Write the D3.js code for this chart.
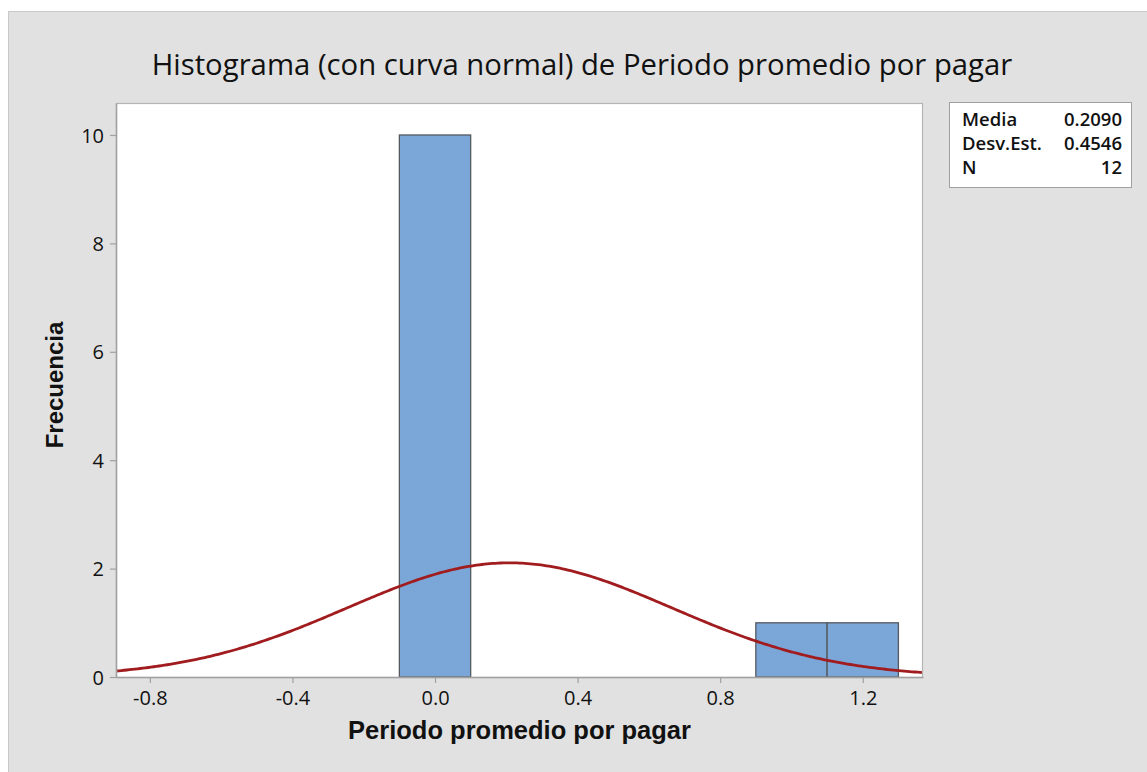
<!DOCTYPE html>
<html>
<head>
<meta charset="utf-8">
<script src="https://cdn.jsdelivr.net/npm/d3@7"></script>
<style>
  html, body { margin: 0; padding: 0; background: #ffffff; }
  svg { display: block; }
</style>
</head>
<body>
<svg id="chart" width="1147" height="772"></svg>
<script>
// Histogram bins (midpoints, width 0.2) and their counts
const binMids = [0.0, 0.2, 0.4, 0.6, 0.8, 1.0, 1.2];
const binCounts = [10, 0, 0, 0, 0, 1, 1];
const binWidth = 0.2;

// Summary statistics shown in the legend box
const statLabels = ["Media", "Desv.Est.", "N"];
const statValues = ["0.2090", "0.4546", "12"];
const mean = 0.2090, sd = 0.4546, n = 12;

// Axis ticks
const xTicks = [-0.8, -0.4, 0.0, 0.4, 0.8, 1.2];
const yTicks = [0, 2, 4, 6, 8, 10];

const svg = d3.select("#chart");
const W = 1147, H = 772;
const plot = { left: 116, top: 103, right: 923, bottom: 677 };

// Outer panel
svg.append("rect").attr("x", 8.5).attr("y", 11.5)
  .attr("width", W).attr("height", H)
  .attr("fill", "#e1e1e1").attr("stroke", "#c8c8c8");

const x = d3.scaleLinear().domain([-0.895, 1.369]).range([plot.left, plot.right]);
const y = d3.scaleLinear().domain([0, 10.59]).range([plot.bottom, plot.top]);

// Plot area
svg.append("rect")
  .attr("x", plot.left).attr("y", plot.top)
  .attr("width", plot.right - plot.left).attr("height", plot.bottom - plot.top)
  .attr("fill", "#ffffff");

// Bars
svg.append("g").selectAll("rect").data(binMids).join("rect")
  .attr("x", d => x(d - binWidth / 2))
  .attr("width", d => x(d + binWidth / 2) - x(d - binWidth / 2))
  .attr("y", (d, i) => y(binCounts[i]))
  .attr("height", (d, i) => y(0) - y(binCounts[i]))
  .attr("fill", "#7ba7d8")
  .attr("stroke", "#55595f")
  .attr("stroke-width", 1.3);

// Fitted normal curve scaled to counts
const pdf = v => Math.exp(-0.5 * ((v - mean) / sd) ** 2) / (sd * Math.sqrt(2 * Math.PI));
const xs = d3.range(0, 301).map(i => x.domain()[0] + (x.domain()[1] - x.domain()[0]) * i / 300);
svg.append("path")
  .datum(xs)
  .attr("fill", "none")
  .attr("stroke", "#a11c1f")
  .attr("stroke-width", 2.8)
  .attr("d", d3.line().x(v => x(v)).y(v => y(n * binWidth * pdf(v))));

// Plot frame
svg.append("rect")
  .attr("x", plot.left + 0.5).attr("y", plot.top + 0.5)
  .attr("width", plot.right - plot.left - 1).attr("height", plot.bottom - plot.top)
  .attr("fill", "none").attr("stroke", "#b4b4b4").attr("stroke-width", 1.2);

// Axes
const tickFont = "'Open Sans', 'Noto Sans', sans-serif";
const fmtX = d => d3.format(".1f")(d).replace("\u2212", "-");
const xAxis = svg.append("g").attr("transform", `translate(0,${plot.bottom})`)
  .call(d3.axisBottom(x).tickValues(xTicks).tickFormat(fmtX).tickSizeInner(6).tickSizeOuter(0).tickPadding(5));
const yAxis = svg.append("g").attr("transform", `translate(${plot.left},0)`)
  .call(d3.axisLeft(y).tickValues(yTicks).tickFormat(d3.format("d")).tickSizeInner(6).tickSizeOuter(0).tickPadding(6));
[xAxis, yAxis].forEach(g => {
  g.select(".domain").attr("stroke", "#a0a0a0").attr("stroke-width", 1.5);
  g.selectAll(".tick line").attr("stroke", "#a0a0a0").attr("stroke-width", 1.2);
  g.selectAll(".tick text").attr("fill", "#111").style("font-family", tickFont).style("font-size", "20px");
});
xAxis.selectAll(".tick text").attr("dy", "0.85em");
yAxis.selectAll(".tick text").attr("dy", "0.36em");

// Title
svg.append("text")
  .attr("x", 582).attr("y", 75)
  .attr("text-anchor", "middle")
  .style("font-family", "'Open Sans', 'Noto Sans', sans-serif")
  .style("font-size", "29.3px")
  .attr("fill", "#111")
  .text("Histograma (con curva normal) de Periodo promedio por pagar");

// Axis titles
svg.append("text")
  .attr("x", (plot.left + plot.right) / 2).attr("y", 739)
  .attr("text-anchor", "middle")
  .style("font-family", "'Liberation Sans', Arial, sans-serif")
  .style("font-weight", "bold").style("font-size", "25.5px")
  .attr("fill", "#111")
  .text("Periodo promedio por pagar");

svg.append("text")
  .attr("transform", `translate(63,385) rotate(-90)`)
  .attr("text-anchor", "middle")
  .style("font-family", "'Liberation Sans', Arial, sans-serif")
  .style("font-weight", "bold").style("font-size", "24px")
  .attr("fill", "#111")
  .text("Frecuencia");

// Legend box with summary statistics
const lg = svg.append("g");
lg.append("rect").attr("x", 949.5).attr("y", 102.5).attr("width", 182).attr("height", 85)
  .attr("fill", "#ffffff").attr("stroke", "#a0a0a0");
statLabels.forEach((s, i) => {
  lg.append("text").attr("x", 962).attr("y", 126 + i * 24)
    .style("font-family", tickFont).style("font-size", "18.5px").style("font-weight", 600)
    .attr("fill", "#111").text(s);
  lg.append("text").attr("x", 1122).attr("y", 126 + i * 24).attr("text-anchor", "end")
    .style("font-family", tickFont).style("font-size", "18.5px").style("font-weight", 600)
    .attr("fill", "#111").text(statValues[i]);
});
</script>
</body>
</html>
